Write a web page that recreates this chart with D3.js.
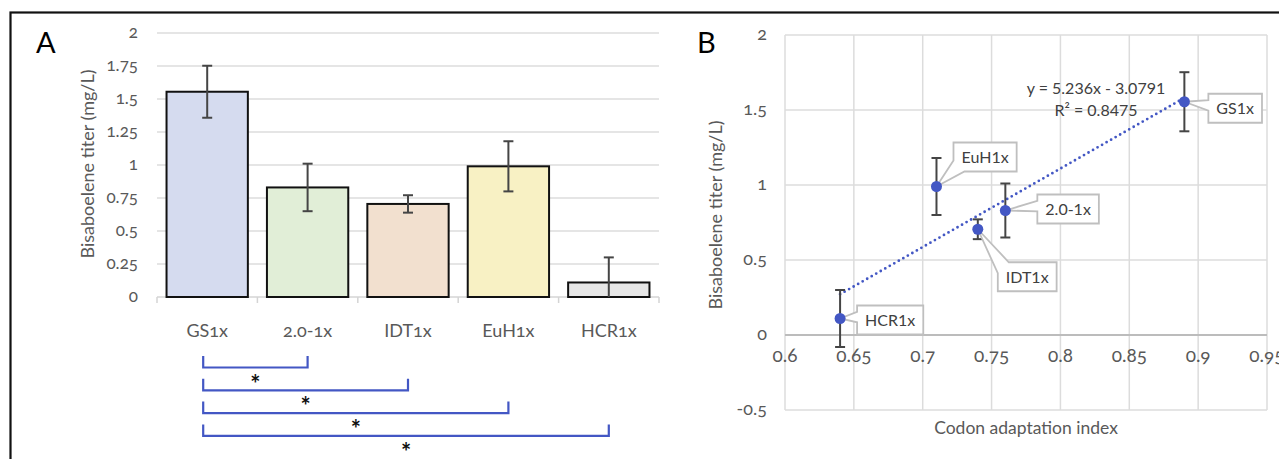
<!DOCTYPE html>
<html>
<head>
<meta charset="utf-8">
<script src="https://cdn.jsdelivr.net/npm/d3@7"></script>
<style>
  body { margin: 0; background: #fff; }
  svg text { font-family: Lato, "Open Sans", sans-serif; }
  .onum { font-variant-numeric: oldstyle-nums; font-feature-settings: "onum"; }
</style>
</head>
<body>
<div id="chart"></div>
<script>
// data
const categories = ["GS1x", "2.0-1x", "IDT1x", "EuH1x", "HCR1x"];
const titers = [1.555, 0.83, 0.705, 0.99, 0.11];
const titerErr = [0.197, 0.18, 0.066, 0.19, 0.19];
const cai = [0.89, 0.76, 0.74, 0.71, 0.64];
const barColors = ["#d5dbef", "#e1eed7", "#f2e0cf", "#f8f1c4", "#e7e7e7"];

const barTicks = [0, 0.25, 0.5, 0.75, 1, 1.25, 1.5, 1.75, 2];
const caiTicks = [0.6, 0.65, 0.7, 0.75, 0.8, 0.85, 0.9, 0.95];
const titerTicks = [-0.5, 0, 0.5, 1, 1.5, 2];

// significance brackets: pairs of category indices
const comparisons = [[0, 1], [0, 2], [0, 3], [0, 4]];
const sigMarks = ["*", "*", "*", "*"];

// linear trend line
const trendSlope = 5.236;
const trendIntercept = -3.0791;
const trendR2 = 0.8475;

const textGray = "#595959";
const blue = "#4357c4";

const svg = d3.select("#chart")
    .append("svg")
    .attr("width", 1279)
    .attr("height", 459);

// outer frame
svg.append("rect")
    .attr("x", 10.5).attr("y", 12.5)
    .attr("width", 1400).attr("height", 600)
    .attr("fill", "none")
    .attr("stroke", "#111")
    .attr("stroke-width", 2.2);

// ---------------- panel A ----------------
const x = d3.scaleBand()
    .domain(categories)
    .range([157, 659])
    .paddingInner(0.19)
    .paddingOuter(0.095);

const y = d3.scaleLinear()
    .domain([0, 2])
    .range([297, 33]);

const gA = svg.append("g");

gA.append("text")
    .attr("x", 36).attr("y", 53)
    .attr("font-size", 29)
    .attr("fill", "#000")
    .text("A");

// gridlines
gA.selectAll(".gridA")
    .data(barTicks.filter(d => d > 0))
    .enter()
    .append("line")
    .attr("x1", 157).attr("x2", 659)
    .attr("y1", d => y(d)).attr("y2", d => y(d))
    .attr("stroke", "#dcdcdc")
    .attr("stroke-width", 1.5);

// y tick labels
gA.selectAll(".ytA")
    .data(barTicks)
    .enter()
    .append("text")
    .attr("class", "onum")
    .attr("x", 138)
    .attr("y", d => y(d) + 5)
    .attr("text-anchor", "end")
    .attr("font-size", 17)
    .attr("fill", textGray)
    .text(d => d);

// x axis line with ticks between categories
gA.append("line")
    .attr("x1", 157).attr("x2", 659)
    .attr("y1", y(0)).attr("y2", y(0))
    .attr("stroke", "#d4d4d4")
    .attr("stroke-width", 1.5);

gA.selectAll(".xtickA")
    .data(d3.range(categories.length + 1))
    .enter()
    .append("line")
    .attr("x1", i => x.range()[0] + i * x.step())
    .attr("x2", i => x.range()[0] + i * x.step())
    .attr("y1", y(0)).attr("y2", y(0) + 6)
    .attr("stroke", "#d4d4d4")
    .attr("stroke-width", 1.5);

// bars
gA.selectAll(".bar")
    .data(categories)
    .enter()
    .append("rect")
    .attr("x", d => x(d))
    .attr("width", x.bandwidth())
    .attr("y", (d, i) => y(titers[i]))
    .attr("height", (d, i) => y(0) - y(titers[i]))
    .attr("fill", (d, i) => barColors[i])
    .attr("stroke", "#111")
    .attr("stroke-width", 2);

// error bars
categories.forEach((c, i) => {
    const cx = x(c) + x.bandwidth() / 2;
    const lo = Math.max(0, titers[i] - titerErr[i]);
    const hi = titers[i] + titerErr[i];
    const eg = gA.append("g").attr("stroke", "#454545").attr("stroke-width", 2);
    eg.append("line").attr("x1", cx).attr("x2", cx).attr("y1", y(lo)).attr("y2", y(hi));
    eg.append("line").attr("x1", cx - 5).attr("x2", cx + 5).attr("y1", y(hi)).attr("y2", y(hi));
    if (titers[i] - titerErr[i] >= 0) {
        eg.append("line").attr("x1", cx - 5).attr("x2", cx + 5).attr("y1", y(lo)).attr("y2", y(lo));
    }
});

// category labels
gA.selectAll(".xlabA")
    .data(categories)
    .enter()
    .append("text")
    .attr("class", "onum")
    .attr("x", d => x(d) + x.bandwidth() / 2)
    .attr("y", 337)
    .attr("text-anchor", "middle")
    .attr("font-size", 18)
    .attr("fill", textGray)
    .text(d => d);

// y axis title
gA.append("text")
    .attr("transform", "translate(94,164) rotate(-90)")
    .attr("text-anchor", "middle")
    .attr("font-size", 18)
    .attr("fill", textGray)
    .text("Bisaboelene titer (mg/L)");

// significance brackets
comparisons.forEach((pair, k) => {
    const x0 = x(categories[pair[0]]) - 4 + x.bandwidth() / 2;
    const x1 = x(categories[pair[1]]) + x.bandwidth() / 2;
    const top = 356 + k * 22.8;
    const bottom = top + 11.5;
    gA.append("path")
        .attr("d", `M${x0},${top} V${bottom} H${x1} V${top}`)
        .attr("fill", "none")
        .attr("stroke", blue)
        .attr("stroke-width", 2.2);
    gA.append("text")
        .attr("x", (x0 + x1) / 2)
        .attr("y", bottom + 25)
        .attr("text-anchor", "middle")
        .attr("font-size", 24)
        .attr("font-weight", "bold")
        .attr("fill", "#111")
        .text(sigMarks[k]);
});

// ---------------- panel B ----------------
const xs = d3.scaleLinear().domain([0.6, 0.95]).range([785, 1267]);
const ys = d3.scaleLinear().domain([-0.5, 2]).range([410, 35]);

const gB = svg.append("g");

gB.append("text")
    .attr("x", 697).attr("y", 53)
    .attr("font-size", 29)
    .attr("fill", "#000")
    .text("B");

gB.selectAll(".vgrid")
    .data(caiTicks)
    .enter()
    .append("line")
    .attr("x1", d => xs(d)).attr("x2", d => xs(d))
    .attr("y1", ys(2)).attr("y2", ys(-0.5))
    .attr("stroke", "#dcdcdc")
    .attr("stroke-width", 1.5);

gB.selectAll(".hgrid")
    .data(titerTicks)
    .enter()
    .append("line")
    .attr("x1", xs(0.6)).attr("x2", xs(0.95))
    .attr("y1", d => ys(d)).attr("y2", d => ys(d))
    .attr("stroke", d => d === 0 ? "#bcbcbc" : "#dcdcdc")
    .attr("stroke-width", d => d === 0 ? 2 : 1.5);

gB.selectAll(".ytB")
    .data(titerTicks)
    .enter()
    .append("text")
    .attr("class", "onum")
    .attr("x", 767)
    .attr("y", d => ys(d) + 5)
    .attr("text-anchor", "end")
    .attr("font-size", 18)
    .attr("fill", textGray)
    .text(d => d);

gB.selectAll(".xtB")
    .data(caiTicks)
    .enter()
    .append("text")
    .attr("class", "onum")
    .attr("x", d => xs(d))
    .attr("y", ys(0) + 27)
    .attr("text-anchor", "middle")
    .attr("font-size", 19)
    .attr("fill", textGray)
    .text(d => d);

gB.append("text")
    .attr("transform", "translate(722,215) rotate(-90)")
    .attr("text-anchor", "middle")
    .attr("font-size", 18)
    .attr("fill", textGray)
    .text("Bisaboelene titer (mg/L)");

gB.append("text")
    .attr("x", (xs.range()[0] + xs.range()[1]) / 2)
    .attr("y", 434)
    .attr("text-anchor", "middle")
    .attr("font-size", 17.5)
    .attr("fill", textGray)
    .text("Codon adaptation index");

// trend line
const xMin = d3.min(cai), xMax = d3.max(cai);
gB.append("line")
    .attr("x1", xs(xMin)).attr("y1", ys(trendSlope * xMin + trendIntercept))
    .attr("x2", xs(xMax)).attr("y2", ys(trendSlope * xMax + trendIntercept))
    .attr("stroke", blue)
    .attr("stroke-width", 2.8)
    .attr("stroke-linecap", "round")
    .attr("stroke-dasharray", "0 5.2");

gB.append("text")
    .attr("x", 1096).attr("y", 94)
    .attr("text-anchor", "middle")
    .attr("font-size", 16)
    .attr("fill", "#404040")
    .text(`y = ${trendSlope}x - ${Math.abs(trendIntercept)}`);

gB.append("text")
    .attr("x", 1096).attr("y", 116)
    .attr("text-anchor", "middle")
    .attr("font-size", 16)
    .attr("fill", "#404040")
    .text("R² = " + trendR2);

// error bars
cai.forEach((cv, i) => {
    const px = xs(cv);
    const eg = gB.append("g").attr("stroke", "#454545").attr("stroke-width", 2);
    const lo = ys(titers[i] - titerErr[i]), hi = ys(titers[i] + titerErr[i]);
    eg.append("line").attr("x1", px).attr("x2", px).attr("y1", lo).attr("y2", hi);
    eg.append("line").attr("x1", px - 5).attr("x2", px + 5).attr("y1", lo).attr("y2", lo);
    eg.append("line").attr("x1", px - 5).attr("x2", px + 5).attr("y1", hi).attr("y2", hi);
});

// data label callouts (box offset from point, wedge type)
const labelLayout = [
    { dx: 24, dy: -8, kind: "left" },
    { dx: 32, dy: -16, kind: "left" },
    { dx: 20, dy: 33, kind: "tl" },
    { dx: 17, dy: -44, kind: "bl" },
    { dx: 17, dy: -13, kind: "left" }
];

function calloutPath(bx, by, w, h, px, py, kind) {
    const d = 11;
    if (kind === "tl") {
        return `M${bx + d},${by} H${bx + w} V${by + h} H${bx} V${by + d} L${px},${py} Z`;
    }
    if (kind === "bl") {
        return `M${bx},${by} H${bx + w} V${by + h} H${bx + d} L${px},${py} L${bx},${by + h - d} Z`;
    }
    const b1 = by + h * 0.22, b2 = by + h * 0.58;
    return `M${bx},${by} H${bx + w} V${by + h} H${bx} V${b2} L${px},${py} L${bx},${b1} Z`;
}

categories.forEach((c, i) => {
    const px = xs(cai[i]), py = ys(titers[i]);
    const lay = labelLayout[i];
    const lg = gB.append("g");
    const path = lg.append("path");
    const t = lg.append("text")
        .attr("font-size", 16)
        .attr("fill", "#404040")
        .attr("text-anchor", "middle")
        .text(c);
    const w = t.node().getComputedTextLength() + 16;
    const h = 29;
    const bx = px + lay.dx, by = py + lay.dy;
    t.attr("x", bx + w / 2).attr("y", by + h / 2 + 6);
    path.attr("d", calloutPath(bx, by, w, h, px, py, lay.kind))
        .attr("fill", "#fff")
        .attr("stroke", "#bfbfbf")
        .attr("stroke-width", 1.8)
        .attr("stroke-linejoin", "miter");
});

gB.selectAll(".pt")
    .data(cai)
    .enter()
    .append("circle")
    .attr("cx", d => xs(d))
    .attr("cy", (d, i) => ys(titers[i]))
    .attr("r", 5.5)
    .attr("fill", blue);
</script>
</body>
</html>
